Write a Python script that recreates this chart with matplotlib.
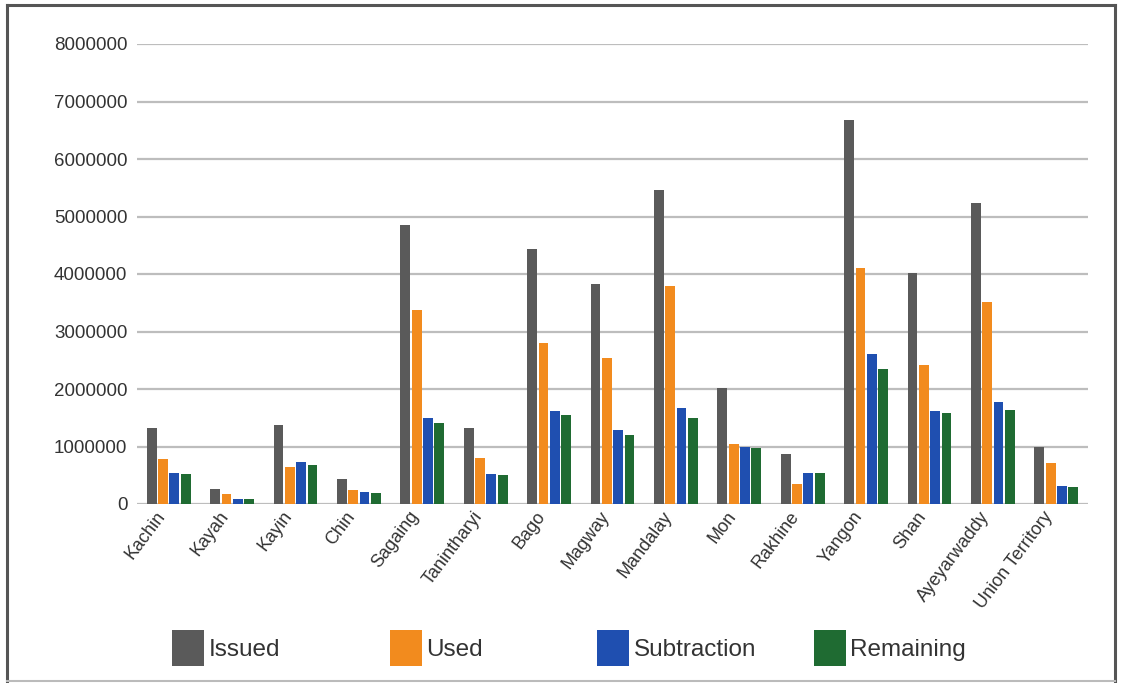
import matplotlib
matplotlib.use("Agg")
import matplotlib.pyplot as plt
from matplotlib.lines import Line2D
from matplotlib.patches import Patch
import numpy as np

plt.rcParams['font.family'] = ['Liberation Sans', 'DejaVu Sans']

regions = ["Kachin", "Kayah", "Kayin", "Chin", "Sagaing", "Tanintharyi", "Bago",
           "Magway", "Mandalay", "Mon", "Rakhine", "Yangon", "Shan", "Ayeyarwaddy",
           "Union Territory"]
issued = [1320000, 260000, 1370000, 430000, 4850000, 1320000, 4430000,
          3830000, 5460000, 2020000, 870000, 6680000, 4020000, 5230000, 990000]
used = [780000, 170000, 640000, 240000, 3370000, 800000, 2800000,
        2540000, 3790000, 1040000, 350000, 4100000, 2420000, 3510000, 710000]
subtraction = [540000, 80000, 730000, 210000, 1500000, 520000, 1620000,
               1290000, 1670000, 990000, 540000, 2610000, 1620000, 1770000, 310000]
remaining = [530000, 80000, 680000, 200000, 1410000, 500000, 1550000,
             1200000, 1500000, 970000, 540000, 2350000, 1580000, 1630000, 300000]
series_names = ["Issued", "Used", "Subtraction", "Remaining"]
yticks = [0, 1000000, 2000000, 3000000, 4000000, 5000000, 6000000, 7000000, 8000000]

colors = ["#5a5a5a", "#f28b1e", "#1f4fb0", "#1f6b32"]

W, H = 1121, 683
fig = plt.figure(figsize=(W / 100, H / 100), dpi=100)
ax = fig.add_axes([137 / W, 1 - 504 / H, (1088 - 137) / W, (504 - 44) / H])

x = np.arange(len(regions))
step = 0.178
bw = 0.155
data = [issued, used, subtraction, remaining]
for i, (vals, c) in enumerate(zip(data, colors)):
    ax.bar(x + (i - 1.5) * step, vals, width=bw, color=c, zorder=3)

ax.set_xlim(-0.5, len(regions) - 0.5)
ax.set_ylim(0, 8000000)
ax.set_yticks(yticks)
ax.set_yticklabels([str(v) for v in yticks], fontsize=13.5, color="#333333")
ax.yaxis.grid(True, color="#bdbdbd", linewidth=1.6, zorder=0)
ax.set_axisbelow(True)
for s in ax.spines.values():
    s.set_visible(False)
ax.tick_params(axis='y', length=0, pad=7)
ax.tick_params(axis='x', length=0, pad=3)
ax.set_xticks(x)
ax.set_xticklabels(regions, rotation=53, ha='right', va='top', fontsize=13, color="#333333")

# legend entries placed at fixed column positions
legend_x = [172, 390, 597, 814]
for name, c, lx in zip(series_names, colors, legend_x):
    fig.legend(handles=[Patch(facecolor=c, edgecolor='none')], labels=[name],
               loc='center left', bbox_to_anchor=(lx / W, 1 - 648 / H),
               frameon=False, fontsize=17.5, handlelength=1.3, handleheight=1.9,
               handletextpad=0.2, borderpad=0, borderaxespad=0,
               labelcolor="#333333")

# outer frame
fig.add_artist(Line2D([7 / W, 7 / W], [1 - 5 / H, 1 - 681 / H], color="#555555", lw=2.2, transform=fig.transFigure))
fig.add_artist(Line2D([7 / W, 1115 / W], [1 - 5 / H, 1 - 5 / H], color="#555555", lw=2.2, transform=fig.transFigure))
fig.add_artist(Line2D([1115 / W, 1115 / W], [1 - 5 / H, 1 - 681 / H], color="#555555", lw=2.2, transform=fig.transFigure))
fig.add_artist(Line2D([7 / W, 1115 / W], [1 - 681 / H, 1 - 681 / H], color="#bbbbbb", lw=1.5, transform=fig.transFigure))

fig.savefig("out.png", dpi=100)
